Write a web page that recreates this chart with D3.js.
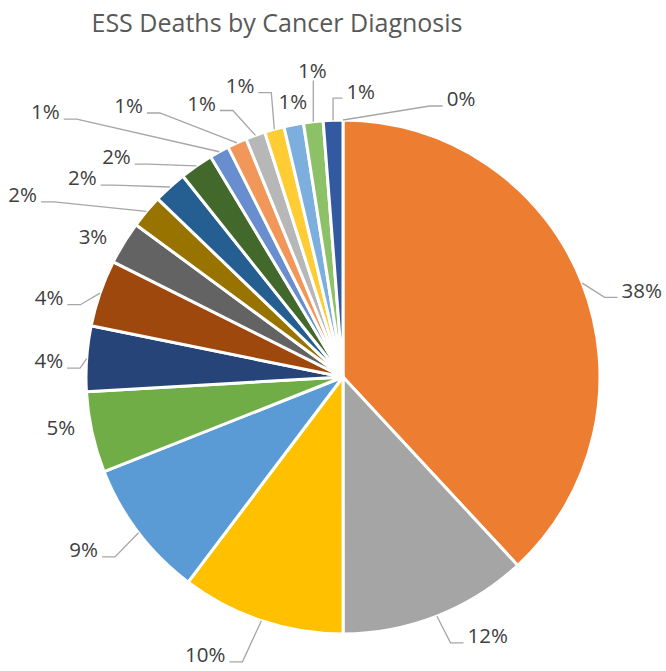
<!DOCTYPE html>
<html>
<head>
<meta charset="utf-8">
<script src="https://cdn.jsdelivr.net/npm/d3@7"></script>
<style>
  body { margin: 0; background: #fff; }
  text { font-family: "Open Sans", sans-serif; }
</style>
</head>
<body>
<div id="chart"></div>
<script>
// data (share of ESS deaths, %), in Excel series order, drawn clockwise from 12 o'clock
var categories = ["Diagnosis 1", "Diagnosis 2", "Diagnosis 3", "Diagnosis 4", "Diagnosis 5",
  "Diagnosis 6", "Diagnosis 7", "Diagnosis 8", "Diagnosis 9", "Diagnosis 10",
  "Diagnosis 11", "Diagnosis 12", "Diagnosis 13", "Diagnosis 14", "Diagnosis 15",
  "Diagnosis 16", "Diagnosis 17", "Diagnosis 18", "Diagnosis 19"];
var deaths = [0, 38.1, 11.9, 10.3, 8.7, 5.1, 4.1, 4.2, 2.7, 2.1, 2.1, 2.1,
  1.23, 1.23, 1.23, 1.23, 1.23, 1.23, 1.23];
var colors = ["#4472C4", "#ED7D31", "#A5A5A5", "#FFC000", "#5B9BD5", "#70AD47",
  "#264478", "#9E480E", "#636363", "#997300", "#255E91", "#43682B",
  "#698ED0", "#F1975A", "#B7B7B7", "#FFCD33", "#7CAFDD", "#8CC168", "#335AA1"];

// label placement: nudge from the default spot on the slice bisector (Excel "best fit")
var labelNudge = [[118,14],[27,20],[38,-13],[-45,1],[-27,-4],[3,-12],[-3,5],[-18,16],
  [-1,12],[-97,6],[-64,17],[-60,20],[-157,-9],[-94,-5],[-42,1],[-25,-10],[6,11],[3,-16],[29,6]];

var width = 666, height = 671;
var cx = 343, cy = 377, radius = 257, labelR = 292;

var svg = d3.select("#chart").append("svg")
  .attr("width", width)
  .attr("height", height);

svg.append("text")
  .attr("x", 277)
  .attr("y", 32)
  .attr("text-anchor", "middle")
  .style("font-size", "25px")
  .style("fill", "#595959")
  .text("ESS Deaths by Cancer Diagnosis");

var data = categories.map(function (c, i) {
  return { name: c, value: deaths[i], color: colors[i], nudge: labelNudge[i] };
});
var total = d3.sum(deaths);

var pie = d3.pie()
  .sort(null)
  .value(function (d) { return d.value; });

var arc = d3.arc()
  .innerRadius(0)
  .outerRadius(radius);

var g = svg.append("g")
  .attr("transform", "translate(" + cx + "," + cy + ")");

var arcs = pie(data);

g.selectAll(".slice")
  .data(arcs)
  .enter().append("path")
  .attr("class", "slice")
  .attr("d", arc)
  .style("fill", function (d) { return d.data.color; })
  .style("stroke", "#fff")
  .style("stroke-width", 3)
  .style("stroke-linejoin", "round");

function polar(r, a) {
  return [r * Math.sin(a), -r * Math.cos(a)];
}

var labels = g.selectAll(".lbl")
  .data(arcs)
  .enter().append("g")
  .attr("class", "lbl");

labels.each(function (d) {
  var mid = (d.startAngle + d.endAngle) / 2;
  var p = polar(labelR, mid);
  var lx = p[0] + d.data.nudge[0], ly = p[1] + d.data.nudge[1];
  var sel = d3.select(this);
  var t = sel.append("text")
    .attr("x", lx)
    .attr("y", ly + 7.3)
    .attr("text-anchor", "middle")
    .style("font-size", "20.5px")
    .style("fill", "#404040")
    .text(Math.round(d.value / total * 100) + "%");
  var w = t.node().getComputedTextLength();
  var x0 = lx - w / 2, x1 = lx + w / 2, y0 = ly - 7.5, y1 = ly + 7.5;
  var A = polar(radius, mid);
  var ddx = Math.max(x0 - A[0], 0, A[0] - x1), ddy = Math.max(y0 - A[1], 0, A[1] - y1);
  if (Math.hypot(ddx, ddy) <= 20) return;
  var pts;
  if (A[0] < x0) {
    pts = [[x0 - 4, ly + 7], [Math.max(x0 - 17, A[0]), ly + 7], A];
  } else if (A[0] > x1) {
    pts = [[x1 + 4, ly + 7], [Math.min(x1 + 17, A[0]), ly + 7], A];
  } else {
    pts = [[A[0], y1 + 2], A];
  }
  sel.insert("path", "text")
    .attr("d", d3.line()(pts))
    .style("fill", "none")
    .style("stroke", "#A6A6A6")
    .style("stroke-width", 1.3);
});
</script>
</body>
</html>
